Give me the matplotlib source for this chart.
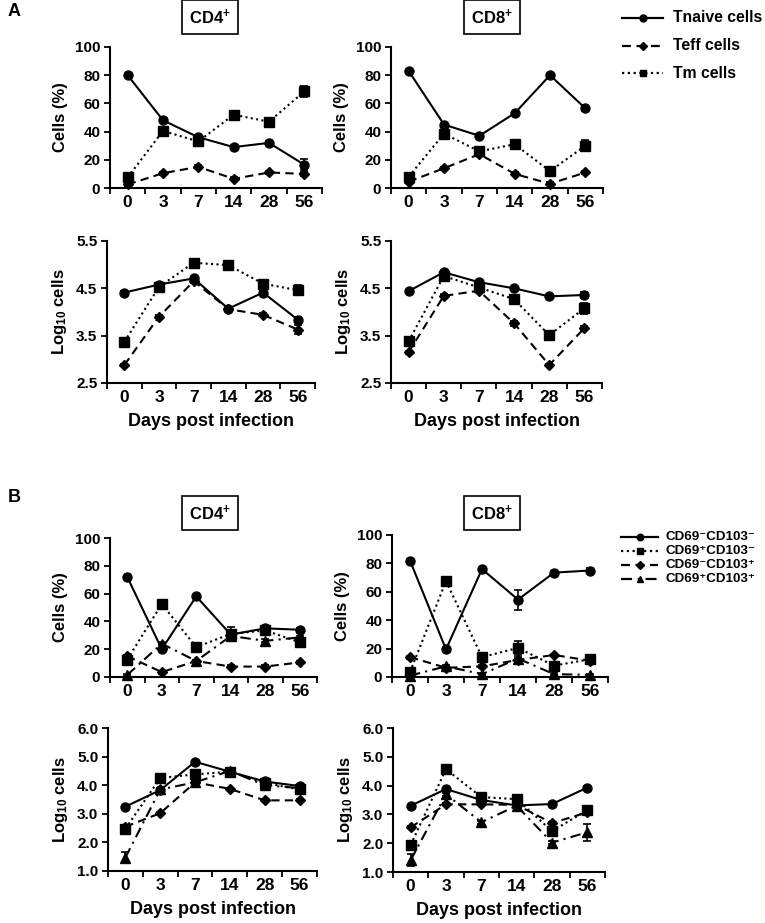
import matplotlib
matplotlib.use("Agg")
import matplotlib.pyplot as plt
from matplotlib.lines import Line2D
import numpy as np

plt.rcParams['font.family'] = ['Liberation Sans', 'DejaVu Sans']
plt.rcParams['font.weight'] = 'bold'
plt.rcParams['mathtext.fontset'] = 'custom'
plt.rcParams['mathtext.rm'] = 'Liberation Sans:bold'
plt.rcParams['mathtext.bf'] = 'Liberation Sans:bold'
plt.rcParams['mathtext.it'] = 'Liberation Sans:bold'

days = ['0', '3', '7', '14', '28', '56']

# --- panel A, CD4 (%)
a4_pct_naive = [80, 48, 36, 29, 32, 16.5]
a4_pct_eff = [2.5, 10.5, 15, 6.5, 11, 10]
a4_pct_mem = [7.5, 40.5, 33, 52, 47, 68.5]
a4_pct_naive_err = [1, 1.5, 1.5, 1, 1, 4]
a4_pct_eff_err = [1, 1, 1, 1, 1, 1.5]
a4_pct_mem_err = [2, 2, 2, 2, 1.5, 4]

# --- panel A, CD8 (%)
a8_pct_naive = [83, 45, 37, 53, 80, 56.5]
a8_pct_eff = [4.5, 14, 24, 10, 3, 11]
a8_pct_mem = [8, 38.5, 26, 31, 12, 30]
a8_pct_naive_err = [1, 1, 1, 1, 1, 2]
a8_pct_eff_err = [1, 1, 1, 1, 1, 1]
a8_pct_mem_err = [1, 1.5, 1.5, 1.5, 1.5, 4]

# --- panel A, CD4 (log10)
a4_log_naive = [4.41, 4.58, 4.71, 4.07, 4.41, 3.84]
a4_log_eff = [2.88, 3.90, 4.65, 4.06, 3.94, 3.63]
a4_log_mem = [3.37, 4.53, 5.04, 4.99, 4.60, 4.46]
a4_log_naive_err = [0.03, 0.03, 0.03, 0.03, 0.03, 0.05]
a4_log_eff_err = [0.03, 0.03, 0.03, 0.03, 0.03, 0.1]
a4_log_mem_err = [0.03, 0.03, 0.03, 0.03, 0.03, 0.1]

# --- panel A, CD8 (log10)
a8_log_naive = [4.44, 4.84, 4.63, 4.50, 4.33, 4.36]
a8_log_eff = [3.15, 4.34, 4.45, 3.76, 2.88, 3.66]
a8_log_mem = [3.38, 4.76, 4.52, 4.27, 3.51, 4.08]
a8_log_naive_err = [0.03, 0.03, 0.03, 0.03, 0.03, 0.07]
a8_log_eff_err = [0.03, 0.03, 0.03, 0.05, 0.03, 0.05]
a8_log_mem_err = [0.03, 0.03, 0.03, 0.03, 0.03, 0.12]

# --- panel B, CD4 (%)
b4_pct_dn = [72, 20, 58, 30.5, 35, 34]
b4_pct_pn = [12.5, 52.5, 21.5, 31, 33.5, 25]
b4_pct_np = [15, 3.5, 11.5, 7.5, 7.5, 10.5]
b4_pct_pp = [1.5, 24, 11.5, 29.5, 26, 28.5]
b4_pct_dn_err = [1, 1, 1, 3, 1, 1]
b4_pct_pn_err = [1, 1, 1, 5, 1, 1]
b4_pct_np_err = [1, 1, 1, 1, 1, 1]
b4_pct_pp_err = [1, 1, 1, 2, 1, 1]

# --- panel B, CD8 (%)
b8_pct_dn = [82, 19.5, 76, 54.5, 73.5, 75]
b8_pct_pn = [3.5, 67.5, 14, 20.5, 8, 12.5]
b8_pct_np = [14, 6.5, 7.5, 12, 15.5, 11.5]
b8_pct_pp = [1, 7.5, 2, 13, 2, 1.5]
b8_pct_dn_err = [1, 1, 1, 7, 1.5, 2]
b8_pct_pn_err = [1, 1.5, 1, 5, 1, 1]
b8_pct_np_err = [1, 1, 1, 1, 1, 1]
b8_pct_pp_err = [0.5, 1, 0.5, 1, 0.5, 0.5]

# --- panel B, CD4 (log10)
b4_log_dn = [3.25, 3.83, 4.82, 4.47, 4.13, 3.97]
b4_log_pn = [2.48, 4.25, 4.38, 4.47, 4.08, 3.85]
b4_log_np = [2.55, 3.02, 4.10, 3.87, 3.47, 3.47]
b4_log_pp = [1.47, 3.85, 4.10, 4.50, 4.00, 3.90]
b4_log_dn_err = [0.03, 0.03, 0.03, 0.03, 0.03, 0.05]
b4_log_pn_err = [0.05, 0.03, 0.03, 0.05, 0.03, 0.05]
b4_log_np_err = [0.03, 0.03, 0.03, 0.03, 0.03, 0.03]
b4_log_pp_err = [0.2, 0.05, 0.05, 0.05, 0.05, 0.05]

# --- panel B, CD8 (log10)
b8_log_dn = [3.30, 3.88, 3.50, 3.31, 3.36, 3.93]
b8_log_pn = [1.94, 4.57, 3.60, 3.53, 2.42, 3.15]
b8_log_np = [2.55, 3.35, 3.35, 3.33, 2.70, 3.07]
b8_log_pp = [1.41, 3.70, 2.73, 3.30, 2.02, 2.38]
b8_log_dn_err = [0.03, 0.03, 0.03, 0.03, 0.03, 0.05]
b8_log_pn_err = [0.05, 0.03, 0.03, 0.05, 0.05, 0.05]
b8_log_np_err = [0.03, 0.03, 0.03, 0.03, 0.03, 0.03]
b8_log_pp_err = [0.2, 0.05, 0.05, 0.05, 0.05, 0.3]

legend_a = ['Tnaive cells', 'Teff cells', 'Tm cells']
legend_b = ['CD69\u207bCD103\u207b', 'CD69\u207aCD103\u207b',
            'CD69\u207bCD103\u207a', 'CD69\u207aCD103\u207a']

W, H = 765, 923
fig = plt.figure(figsize=(W / 100, H / 100), dpi=100)


def pos(l, r, t, b):
    return [l / W, 1 - b / H, (r - l) / W, (b - t) / H]


sty_naive = dict(ls='-', marker='o', ms=6.5)
sty_eff = dict(ls=(0, (4, 2.5)), marker='D', ms=5.5)
sty_mem = dict(ls=(0, (1, 1.6)), marker='s', ms=6.5)
sty_pp = dict(ls=(0, (5, 2.5, 1, 2.5)), marker='^', ms=6.5)


def draw(rect, series, ylim, yticks, fmt, ylabel, xlabel=False):
    ax = fig.add_axes(rect)
    x = np.arange(len(days))
    for vals, errs, sty in series:
        h = ax.errorbar(x, vals, yerr=errs, color='black', lw=1.5, capsize=3,
                        elinewidth=1.2, capthick=1.2, mfc='black', mec='black', **sty)
        h[0].set_clip_on(False)
        for c in h[1]:
            c.set_clip_on(False)
    ax.set_xlim(-0.5, len(days) - 0.5)
    ax.set_ylim(*ylim)
    ax.set_yticks(yticks)
    ax.set_yticklabels([fmt.format(v) for v in yticks], fontsize=11, fontweight='bold')
    ax.set_xticks(np.arange(-0.5, len(days), 1.0))
    ax.set_xticklabels([])
    ax.set_xticks(x, minor=True)
    ax.set_xticklabels(days, minor=True, fontsize=12.5, fontweight='bold')
    ax.tick_params(axis='x', which='minor', length=0, pad=5)
    ax.tick_params(axis='x', which='major', length=4, width=1.3, direction='out')
    ax.tick_params(axis='y', length=4, width=1.3, direction='out', pad=3)
    for s in ['top', 'right']:
        ax.spines[s].set_visible(False)
    for s in ['left', 'bottom']:
        ax.spines[s].set_linewidth(1.5)
    ax.set_ylabel(ylabel, fontsize=12, fontweight='bold', labelpad=5)
    if xlabel:
        ax.set_xlabel('Days post infection', fontsize=13, fontweight='bold', labelpad=6)
    return ax


pct_ticks = [0, 20, 40, 60, 80, 100]
logA_ticks = [2.5, 3.5, 4.5, 5.5]
logB_ticks = [1.0, 2.0, 3.0, 4.0, 5.0, 6.0]
log_label = r'Log$_{10}$ cells'

# Panel A
draw(pos(110, 322, 47, 188),
     [(a4_pct_naive, a4_pct_naive_err, sty_naive), (a4_pct_eff, a4_pct_eff_err, sty_eff),
      (a4_pct_mem, a4_pct_mem_err, sty_mem)],
     (0, 100), pct_ticks, '{:.0f}', 'Cells (%)')
draw(pos(391, 603, 47, 188),
     [(a8_pct_naive, a8_pct_naive_err, sty_naive), (a8_pct_eff, a8_pct_eff_err, sty_eff),
      (a8_pct_mem, a8_pct_mem_err, sty_mem)],
     (0, 100), pct_ticks, '{:.0f}', 'Cells (%)')
draw(pos(107, 315, 241, 383),
     [(a4_log_naive, a4_log_naive_err, sty_naive), (a4_log_eff, a4_log_eff_err, sty_eff),
      (a4_log_mem, a4_log_mem_err, sty_mem)],
     (2.5, 5.5), logA_ticks, '{:.1f}', log_label, xlabel=True)
draw(pos(391, 602, 241, 383),
     [(a8_log_naive, a8_log_naive_err, sty_naive), (a8_log_eff, a8_log_eff_err, sty_eff),
      (a8_log_mem, a8_log_mem_err, sty_mem)],
     (2.5, 5.5), logA_ticks, '{:.1f}', log_label, xlabel=True)

# Panel B
draw(pos(110, 317, 538, 677),
     [(b4_pct_dn, b4_pct_dn_err, sty_naive), (b4_pct_pn, b4_pct_pn_err, sty_mem),
      (b4_pct_np, b4_pct_np_err, sty_eff), (b4_pct_pp, b4_pct_pp_err, sty_pp)],
     (0, 100), pct_ticks, '{:.0f}', 'Cells (%)')
draw(pos(392, 608, 535, 677),
     [(b8_pct_dn, b8_pct_dn_err, sty_naive), (b8_pct_pn, b8_pct_pn_err, sty_mem),
      (b8_pct_np, b8_pct_np_err, sty_eff), (b8_pct_pp, b8_pct_pp_err, sty_pp)],
     (0, 100), pct_ticks, '{:.0f}', 'Cells (%)')
draw(pos(108, 317, 728, 871),
     [(b4_log_dn, b4_log_dn_err, sty_naive), (b4_log_pn, b4_log_pn_err, sty_mem),
      (b4_log_np, b4_log_np_err, sty_eff), (b4_log_pp, b4_log_pp_err, sty_pp)],
     (1.0, 6.0), logB_ticks, '{:.1f}', log_label, xlabel=True)
draw(pos(393, 605, 728, 872),
     [(b8_log_dn, b8_log_dn_err, sty_naive), (b8_log_pn, b8_log_pn_err, sty_mem),
      (b8_log_np, b8_log_np_err, sty_eff), (b8_log_pp, b8_log_pp_err, sty_pp)],
     (1.0, 6.0), logB_ticks, '{:.1f}', log_label, xlabel=True)


# legends drawn by hand in figure pixels
def legend(styles, labels, x0, x1, xt, ys, size, ms_shrink):
    for sty, lab, y in zip(styles, labels, ys):
        yy = 1 - y / H
        fig.add_artist(Line2D([x0 / W, (x0 + x1) / 2 / W, x1 / W], [yy, yy, yy],
                              transform=fig.transFigure, color='black', lw=1.6,
                              ls=sty['ls'], marker=sty['marker'], markevery=[1],
                              ms=sty['ms'] - ms_shrink, mfc='black', mec='black'))
        fig.text(xt / W, yy, lab, ha='left', va='center', fontsize=size, fontweight='bold')


legend((sty_naive, sty_eff, sty_mem), legend_a, 622, 663, 673, [18, 46, 73], 11.3, 1.5)
legend((sty_naive, sty_mem, sty_eff, sty_pp), legend_b, 621, 658, 665,
       [537, 551, 565, 579], 9.6, 1.8)

# boxed titles and panel letters
box = dict(boxstyle='square,pad=0.45', fc='white', ec='black', lw=1.2)
for x, y, t in [(210, 17, r'CD4$^{+}$'), (492, 17, r'CD8$^{+}$'),
                (210, 513, r'CD4$^{+}$'), (492, 513, r'CD8$^{+}$')]:
    fig.text(x / W, 1 - y / H, t, ha='center', va='center', fontsize=12,
             fontweight='bold', bbox=box)
fig.text(8 / W, 1 - 12 / H, 'A', ha='left', va='center', fontsize=13, fontweight='bold')
fig.text(8 / W, 1 - 497 / H, 'B', ha='left', va='center', fontsize=13, fontweight='bold')

fig.savefig('out.png', dpi=100, facecolor='white')
